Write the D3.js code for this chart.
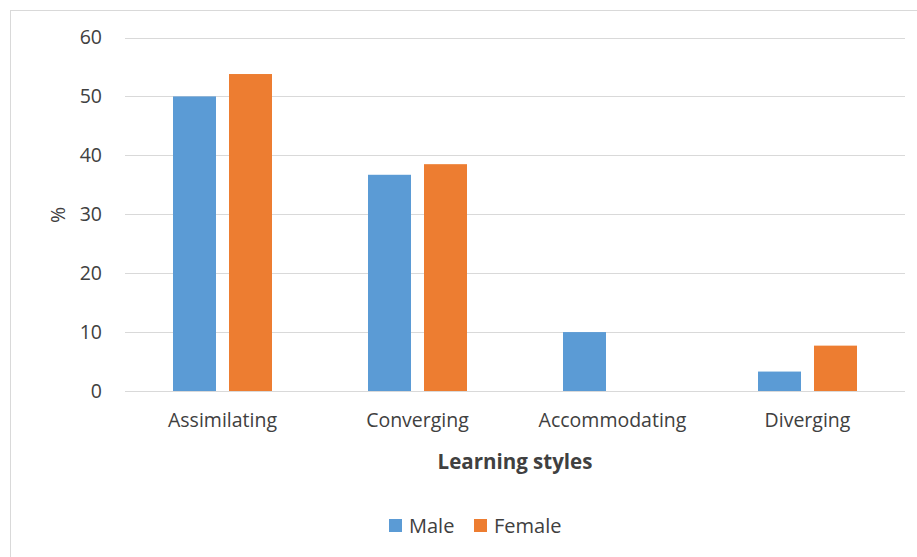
<!DOCTYPE html>
<html lang="en">
<head>
<meta charset="UTF-8">
<title>Learning styles</title>
<script src="https://cdn.jsdelivr.net/npm/d3@7"></script>
<style>
    body { margin: 0; background: #fff; }
    text { font-family: "Open Sans", "Liberation Sans", sans-serif; fill: #404040; }
    .tick-label { font-size: 19.5px; }
    .legend-label { font-size: 20px; }
</style>
</head>
<body>
<svg id="main" width="917" height="557"></svg>
<script>
    // data
    const categories = ['Assimilating', 'Converging', 'Accommodating', 'Diverging'];
    const seriesNames = ['Male', 'Female'];
    const male = [50, 36.7, 10, 3.3];
    const female = [53.8, 38.5, 0, 7.7];
    const yTicks = [0, 10, 20, 30, 40, 50, 60];
    const colors = ['#5b9bd5', '#ed7d31'];

    const svg = d3.select('svg#main');
    const plot = {left: 125, right: 905, top: 37.5, bottom: 391};

    // outer chart border
    svg.append('rect')
        .attr('x', 10.5).attr('y', 10.5)
        .attr('width', 920).attr('height', 560)
        .attr('fill', 'none').attr('stroke', '#d9d9d9');

    let y = d3.scaleLinear().domain([0, 60]).range([plot.bottom, plot.top]);
    let x0 = d3.scaleBand().domain(categories).range([plot.left, plot.right]);
    let groupW = 99;
    let x1 = d3.scaleBand().domain(seriesNames)
        .range([(x0.bandwidth() - groupW) / 2, (x0.bandwidth() + groupW) / 2])
        .paddingInner(13 / 56);

    // gridlines
    svg.append('g').selectAll('line')
        .data(yTicks)
        .enter()
        .append('line')
        .attr('x1', plot.left).attr('x2', plot.right)
        .attr('y1', d => Math.round(y(d)) + 0.5)
        .attr('y2', d => Math.round(y(d)) + 0.5)
        .attr('stroke', '#d9d9d9').attr('stroke-width', 1);

    // y tick labels
    svg.append('g').selectAll('text')
        .data(yTicks)
        .enter()
        .append('text')
        .attr('class', 'tick-label')
        .attr('x', 102)
        .attr('y', d => y(d))
        .attr('dy', '0.35em')
        .attr('text-anchor', 'end')
        .text(d => d);

    // bars
    let rows = categories.map((c, i) => ({cat: c, values: [male[i], female[i]]}));
    let groups = svg.append('g').selectAll('g')
        .data(rows)
        .enter()
        .append('g')
        .attr('transform', d => `translate(${x0(d.cat)},0)`);

    groups.selectAll('rect')
        .data(d => d.values.map((v, i) => ({name: seriesNames[i], value: v, i: i})))
        .enter()
        .filter(d => d.value > 0)
        .append('rect')
        .attr('x', d => x1(d.name))
        .attr('width', x1.bandwidth())
        .attr('y', d => y(d.value))
        .attr('height', d => y(0) - y(d.value))
        .attr('fill', d => colors[d.i]);

    // category labels
    svg.append('g').selectAll('text')
        .data(categories)
        .enter()
        .append('text')
        .attr('class', 'tick-label')
        .attr('x', d => x0(d) + x0.bandwidth() / 2)
        .attr('y', 427)
        .attr('text-anchor', 'middle')
        .text(d => d);

    // axis titles
    svg.append('text')
        .attr('x', 515).attr('y', 469)
        .attr('text-anchor', 'middle')
        .style('font-size', '20.5px').style('font-weight', 'bold')
        .text('Learning styles');

    svg.append('text')
        .attr('transform', 'translate(65,215) rotate(-90)')
        .attr('text-anchor', 'middle')
        .style('font-size', '19.5px')
        .text('%');

    // legend
    let legend = svg.append('g').selectAll('g')
        .data(seriesNames)
        .enter()
        .append('g')
        .attr('transform', (d, i) => `translate(${[389, 474][i]},519)`);
    legend.append('rect')
        .attr('width', 13).attr('height', 13)
        .attr('fill', (d, i) => colors[i]);
    legend.append('text')
        .attr('class', 'legend-label')
        .attr('x', 20).attr('y', 6.5)
        .attr('dy', '0.35em')
        .text(d => d);
</script>
</body>
</html>
